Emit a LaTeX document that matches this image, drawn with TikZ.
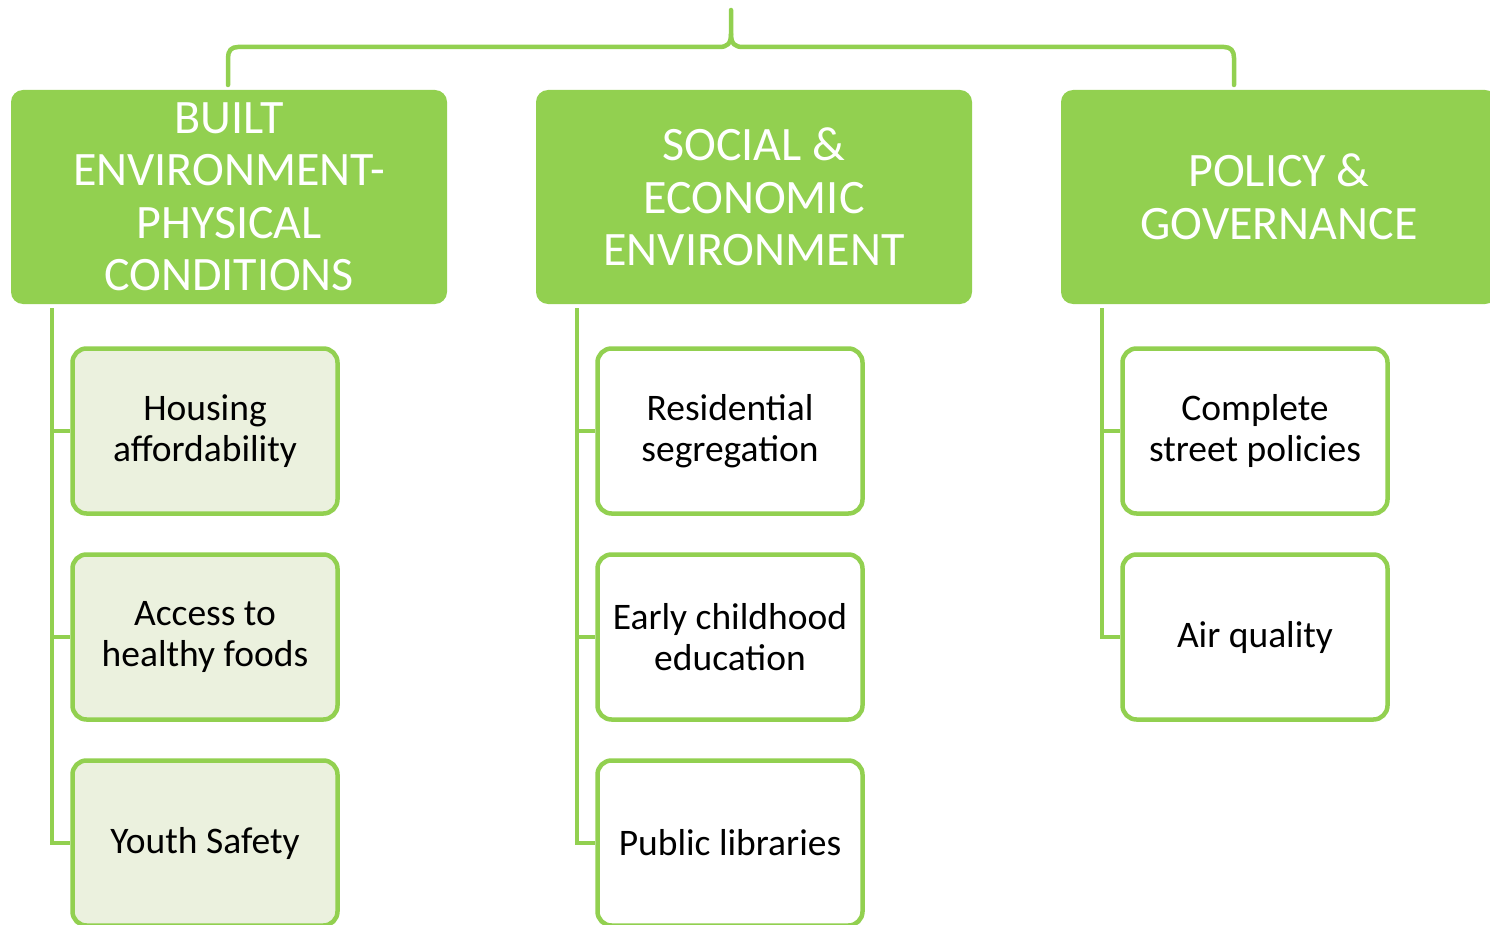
\documentclass[tikz,border=0pt]{standalone}
\usepackage{fontspec}
\setmainfont{Carlito}
\definecolor{hdr}{HTML}{92D050}
\definecolor{lite}{HTML}{EBF1DE}
\tikzset{
  hdrbox/.style={fill=hdr, rounded corners=12pt, minimum width=436pt, minimum height=214pt, text=white, align=center, font=\fontsize{48}{52.5}\selectfont, inner sep=0pt},
  kid/.style={draw=hdr, line width=4.5pt, rounded corners=14pt, minimum width=265pt, minimum height=165pt, align=center, font=\fontsize{37.5}{41}\selectfont, inner sep=0pt},
  kidA/.style={kid, fill=lite},
  kidB/.style={kid, fill=white},
  link/.style={draw=hdr, line width=4.5pt},
}
\begin{document}
\begin{tikzpicture}[x=1pt,y=-1pt]
\useasboundingbox (0,0) rectangle (1490,925);
\clip (0,0) rectangle (1490,925);
% brace
\draw[link, line cap=round, line join=round] (228,85) -- (228,58) .. controls (228,51) and (231,47) .. (238,47) -- (719,47) .. controls (727,47) and (731,44) .. (731,34) -- (731,10);
\draw[link, line cap=round, line join=round] (1234,85) -- (1234,58) .. controls (1234,51) and (1231,47) .. (1224,47) -- (743,47) .. controls (735,47) and (731,44) .. (731,34);
% headers
\node[hdrbox] (h1) at (229,197) {BUILT\\ENVIRONMENT-\\PHYSICAL\\CONDITIONS};
\node[hdrbox] (h2) at (754,197) {SOCIAL \&\\ECONOMIC\\ENVIRONMENT};
\node[hdrbox] (h3) at (1279,197) {POLICY \&\\GOVERNANCE};
% column 1
\node[kidA] (a1) at (205,431) {Housing\\affordability};
\node[kidA] (a2) at (205,637) {Access to\\healthy foods};
\node[kidA] (a3) at (205,843) {Youth Safety};
% column 2
\node[kidB] (b1) at (730,431) {Residential\\segregation};
\node[kidB] (b2) at (730,637) {Early childhood\\education};
\node[kidB] (b3) at (730,843) {Public libraries};
% column 3
\node[kidB] (c1) at (1255,431) {Complete\\street policies};
\node[kidB] (c2) at (1255,637) {Air quality};
% connectors
\coordinate (t1) at (52,308);
\coordinate (t2) at (577,308);
\coordinate (t3) at (1102,308);
\draw[link] (t1) |- (a3.west);
\draw[link] (t1 |- a1.west) -- (a1.west);
\draw[link] (t1 |- a2.west) -- (a2.west);
\draw[link] (t2) |- (b3.west);
\draw[link] (t2 |- b1.west) -- (b1.west);
\draw[link] (t2 |- b2.west) -- (b2.west);
\draw[link] (t3) |- (c2.west);
\draw[link] (t3 |- c1.west) -- (c1.west);
\end{tikzpicture}
\end{document}
